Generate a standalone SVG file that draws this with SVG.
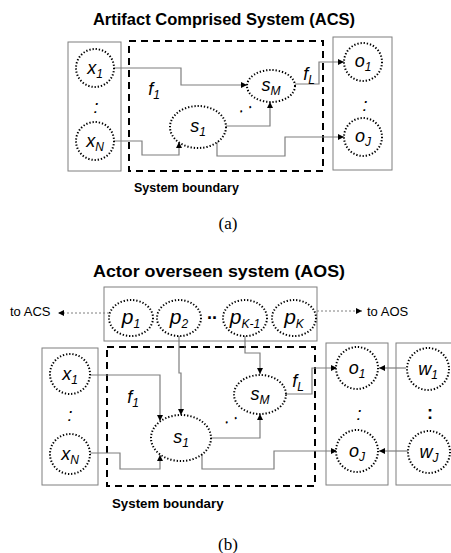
<svg xmlns="http://www.w3.org/2000/svg" width="451" height="553" viewBox="0 0 451 553">
<style>
.title{font-family:"Liberation Sans",Arial,sans-serif;font-weight:bold;font-size:16.5px;fill:#000}
.sb{font-family:"Liberation Sans",Arial,sans-serif;font-weight:bold;fill:#000}
.cap{font-family:"Liberation Serif","Times New Roman",serif;font-size:17px;fill:#000}
.lbl{font-family:"Liberation Sans",Arial,sans-serif;font-size:13px;fill:#000}
.v{font-family:"Liberation Sans",Arial,sans-serif;font-style:italic;font-size:18px;fill:#000;text-anchor:middle}
.vp{font-family:"Liberation Sans",Arial,sans-serif;font-style:italic;font-size:21px;fill:#000;text-anchor:middle}
.sub{font-size:12px}
.box{fill:none;stroke:#7f7f7f;stroke-width:1}
.bnd{fill:none;stroke:#000;stroke-width:2;stroke-dasharray:7 5}
.dot{fill:#fff;stroke:#000;stroke-width:2;stroke-dasharray:1.3 1.9}
.con{fill:none;stroke:#7f7f7f;stroke-width:1.2}
.dash{fill:none;stroke:#7f7f7f;stroke-width:1;stroke-dasharray:2 2}
</style>
<defs>
<marker id="ah" markerUnits="userSpaceOnUse" markerWidth="6" markerHeight="6" refX="6" refY="3" orient="auto">
<path d="M0,0 L6,3 L0,6 z" fill="#000"/>
</marker>
</defs>

<!-- (a) -->
<text class="title" x="224" y="25" text-anchor="middle">Artifact Comprised System (ACS)</text>
<g id="a-inputs"><rect class="box" x="68" y="42" width="53" height="129"/></g>
<g id="a-boundary"><rect class="bnd" x="129" y="41" width="194" height="130"/></g>
<g id="a-outputs"><rect class="box" x="333" y="37" width="59" height="133"/></g>

<g id="a-connectors">
<path class="con" d="M114,68 H181 V85 H247" marker-end="url(#ah)"/>
<path class="con" d="M114,141 H142 V155 H179 V142" marker-end="url(#ah)"/>
<path class="con" d="M226,126 H270 V102" marker-end="url(#ah)"/>
<path class="con" d="M217,141 V156 H285 V137 H344" marker-end="url(#ah)"/>
<path class="con" d="M295,84 H319 V62 H344" marker-end="url(#ah)"/>
</g>

<g id="a-x1"><circle class="dot" cx="95" cy="68" r="19"/><text class="v" x="95" y="74">x<tspan class="sub" dy="4">1</tspan></text></g>
<text class="v" x="96" y="113">:</text>
<g id="a-xN"><circle class="dot" cx="95" cy="141" r="19"/><text class="v" x="95" y="147">x<tspan class="sub" dy="4">N</tspan></text></g>
<g id="a-sM"><ellipse class="dot" cx="271" cy="86" rx="24" ry="16"/><text class="v" x="271" y="91">s<tspan class="sub" dy="4">M</tspan></text></g>
<g id="a-s1"><ellipse class="dot" cx="198" cy="127" rx="28" ry="21"/><text class="v" x="198" y="132">s<tspan class="sub" dy="4">1</tspan></text></g>
<g id="a-o1"><circle class="dot" cx="363" cy="62" r="19"/><text class="v" x="363" y="67">o<tspan class="sub" dy="4">1</tspan></text></g>
<text class="v" x="365" y="111">:</text>
<g id="a-oJ"><circle class="dot" cx="363" cy="137" r="19"/><text class="v" x="363" y="142">o<tspan class="sub" dy="4">J</tspan></text></g>
<text class="v" x="154" y="95">f<tspan class="sub" dy="4">1</tspan></text>
<text class="v" x="309" y="80">f<tspan class="sub" dy="4">L</tspan></text>
<text class="v" x="246" y="110" transform="rotate(-25 246 108)" font-size="14">. .</text>
<text class="sb" x="134" y="192" font-size="12.5">System boundary</text>
<text class="cap" x="228" y="229" text-anchor="middle">(a)</text>

<!-- (b) -->
<text class="title" x="219" y="277" text-anchor="middle" textLength="252" lengthAdjust="spacingAndGlyphs">Actor overseen system (AOS)</text>
<g id="b-actors"><rect class="box" x="104" y="287" width="213" height="54"/></g>
<g id="b-inputs"><rect class="box" x="42" y="348" width="56" height="137"/></g>
<g id="b-boundary"><rect class="bnd" x="107" y="347" width="208" height="139"/></g>
<g id="b-outputs"><rect class="box" x="326" y="343" width="62" height="142" stroke-width="1.5" stroke="#999"/></g>
<g id="b-others"><rect class="box" x="396" y="343" width="60" height="142"/></g>

<g id="b-connectors">
<path class="dash" d="M109,313 H58" marker-end="url(#ah)"/>
<path class="dash" d="M317,311 H362" marker-end="url(#ah)"/>
<path class="con" d="M179,336 V373 H181 V415" marker-end="url(#ah)"/>
<path class="con" d="M245,336 V353 H260 V374" marker-end="url(#ah)"/>
<path class="con" d="M90,375 H160 V421" marker-end="url(#ah)"/>
<path class="con" d="M90,453 H120 V469 H160 V455" marker-end="url(#ah)"/>
<path class="con" d="M211,438 H260 V414" marker-end="url(#ah)"/>
<path class="con" d="M202,454 V469 H274 V451 H337" marker-end="url(#ah)"/>
<path class="con" d="M286,394 H312 V368 H337" marker-end="url(#ah)"/>
<path class="con" d="M406,368 H379" marker-end="url(#ah)"/>
<path class="con" d="M408,451 H379" marker-end="url(#ah)"/>
</g>

<g id="b-p1"><ellipse class="dot" cx="131" cy="318" rx="22" ry="18"/><text class="vp" x="131" y="324">p<tspan class="sub" dy="4" font-size="14">1</tspan></text></g>
<g id="b-p2"><ellipse class="dot" cx="179" cy="318" rx="22" ry="18"/><text class="vp" x="179" y="324">p<tspan class="sub" dy="4" font-size="14">2</tspan></text></g>
<text class="sb" x="212" y="319" font-size="18" text-anchor="middle">..</text>
<g id="b-pK1"><ellipse class="dot" cx="245" cy="318" rx="22" ry="18"/><text class="vp" x="245" y="324">p<tspan class="sub" dy="4" font-size="14">K-1</tspan></text></g>
<g id="b-pK"><ellipse class="dot" cx="294" cy="318" rx="22" ry="18"/><text class="vp" x="294" y="324">p<tspan class="sub" dy="4" font-size="14">K</tspan></text></g>
<text class="lbl" x="10" y="316">to ACS</text>
<text class="lbl" x="367" y="316">to AOS</text>

<g id="b-x1"><circle class="dot" cx="70" cy="374" r="20"/><text class="v" x="70" y="380">x<tspan class="sub" dy="4">1</tspan></text></g>
<text class="v" x="70" y="421">:</text>
<g id="b-xN"><circle class="dot" cx="70" cy="454" r="20"/><text class="v" x="70" y="460">x<tspan class="sub" dy="4">N</tspan></text></g>
<g id="b-s1"><ellipse class="dot" cx="181" cy="438" rx="30" ry="23"/><text class="v" x="181" y="443">s<tspan class="sub" dy="4">1</tspan></text></g>
<g id="b-sM"><ellipse class="dot" cx="260" cy="394.5" rx="26" ry="19.5"/><text class="v" x="260" y="400">s<tspan class="sub" dy="4">M</tspan></text></g>
<text class="v" x="133" y="403">f<tspan class="sub" dy="4">1</tspan></text>
<text class="v" x="298" y="387">f<tspan class="sub" dy="4">L</tspan></text>
<text class="v" x="231" y="421" transform="rotate(-25 231 418)" font-size="14">. .</text>
<g id="b-o1"><circle class="dot" cx="357" cy="368" r="21"/><text class="v" x="357" y="374">o<tspan class="sub" dy="4">1</tspan></text></g>
<text class="v" x="359" y="420">:</text>
<g id="b-oJ"><circle class="dot" cx="357" cy="451" r="21"/><text class="v" x="357" y="457">o<tspan class="sub" dy="4">J</tspan></text></g>
<g id="b-w1"><circle class="dot" cx="428" cy="369" r="21"/><text class="v" x="428" y="375">w<tspan class="sub" dy="4">1</tspan></text></g>
<text class="sb" x="430" y="419" font-size="18" text-anchor="middle">:</text>
<g id="b-wJ"><circle class="dot" cx="429" cy="452" r="21"/><text class="v" x="429" y="458">w<tspan class="sub" dy="4">J</tspan></text></g>
<text class="sb" x="112" y="508" font-size="13.3">System boundary</text>
<text class="cap" x="228" y="550" text-anchor="middle">(b)</text>
</svg>
